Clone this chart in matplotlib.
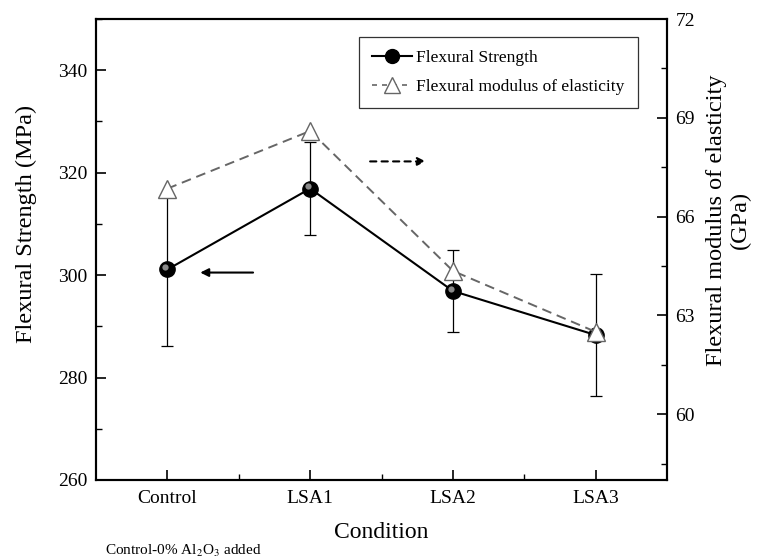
import matplotlib
matplotlib.use("Agg")
import matplotlib.pyplot as plt
import matplotlib.transforms as mtransforms
from matplotlib.ticker import MultipleLocator, FixedLocator

plt.rcParams['font.family'] = ['Liberation Serif', 'DejaVu Serif']
plt.rcParams['mathtext.fontset'] = 'stix'

conditions = ['Control', 'LSA1', 'LSA2', 'LSA3']
strength = [301.1, 316.9, 296.9, 288.3]
strength_err = [15.0, 9.0, 8.0, 12.0]
modulus = [66.85, 68.6, 64.35, 62.5]

x = list(range(len(conditions)))

fig = plt.figure(figsize=(7.61, 5.60), dpi=100)
ax = fig.add_axes([0.1262, 0.1429, 0.7503, 0.8231])
ax2 = ax.twinx()

# strength (left axis)
ax.errorbar(x, strength, yerr=strength_err, fmt='none', ecolor='black',
            elinewidth=0.9, capsize=4, capthick=0.9, zorder=2)
ax.plot(x, strength, '-', color='black', lw=1.5, zorder=3)
ax.plot(x, strength, 'o', color='black', ms=11, zorder=4)
# small highlight to get the "ball" look
hl = mtransforms.offset_copy(ax.transData, fig=fig, x=-1.5, y=1.5, units='points')
ax.plot(x, strength, 'o', color='#8a8a8a', ms=4.5, mec='none', transform=hl, zorder=5)

ax.set_xlim(-0.5, 3.5)
ax.set_ylim(260, 350)
ax.yaxis.set_major_locator(FixedLocator([260, 280, 300, 320, 340]))
ax.yaxis.set_minor_locator(MultipleLocator(10))
ax.xaxis.set_major_locator(FixedLocator(x))
ax.xaxis.set_minor_locator(FixedLocator([0.5, 1.5, 2.5]))
ax.set_xticklabels(conditions)

# modulus (right axis)
ax2.plot(x, modulus, '--', color='#666666', lw=1.4, dashes=(5, 3), zorder=3)
ax2.plot(x, modulus, '^', mfc='white', mec='#666666', mew=1.0, ms=13, zorder=4)
ax2.set_ylim(58, 72)
ax2.yaxis.set_major_locator(FixedLocator([60, 63, 66, 69, 72]))
ax2.yaxis.set_minor_locator(MultipleLocator(1.5))

for a in (ax, ax2):
    a.tick_params(which='major', direction='in', length=7, width=1.2, labelsize=14)
    a.tick_params(which='minor', direction='in', length=4, width=1.0)
    for s in a.spines.values():
        s.set_linewidth(1.5)
ax.tick_params(axis='x', pad=7)
ax.tick_params(axis='y', pad=6)
ax2.tick_params(axis='y', pad=6)

ax.set_ylabel('Flexural Strength (MPa)', fontsize=17.5)
ax.yaxis.set_label_coords(-0.103, 0.555)
ax2.set_ylabel('Flexural modulus of elasticity\n(GPa)', fontsize=17.5)
ax2.yaxis.set_label_coords(1.068, 0.564)
ax.set_xlabel('Condition', fontsize=17, labelpad=11)

# arrows pointing to the matching axis
ax.annotate('', xy=(0.23, 300.5), xytext=(0.6, 300.5),
            arrowprops=dict(arrowstyle='-|>', color='black', lw=1.5,
                            mutation_scale=12, shrinkA=0, shrinkB=0))
ax.annotate('', xy=(1.81, 322.2), xytext=(1.42, 322.2),
            arrowprops=dict(arrowstyle='-|>', color='black', lw=1.5,
                            linestyle=(0, (3, 2.5)), mutation_scale=12,
                            shrinkA=0, shrinkB=0))

# legend
h1 = plt.Line2D([], [], color='black', lw=1.5, marker='o', ms=10)
h2 = plt.Line2D([], [], color='#666666', lw=1.2, ls='--', dashes=(3, 3),
                marker='^', mfc='white', mec='#666666', ms=12)
leg = ax2.legend([h1, h2], ['Flexural Strength', 'Flexural modulus of elasticity'],
                 loc='upper left', bbox_to_anchor=(0.4606, 0.961), borderaxespad=0,
                 fontsize=12.5, frameon=True, fancybox=False, handlelength=2.3,
                 handletextpad=0.25, borderpad=0.75, labelspacing=0.75)
leg.get_frame().set_edgecolor('black')
leg.get_frame().set_linewidth(0.9)

fig.text(105 / 761, 5 / 560, r'Control-0% Al$_2$O$_3$ added', fontsize=11,
         va='baseline')

fig.savefig('out.png', dpi=100)
